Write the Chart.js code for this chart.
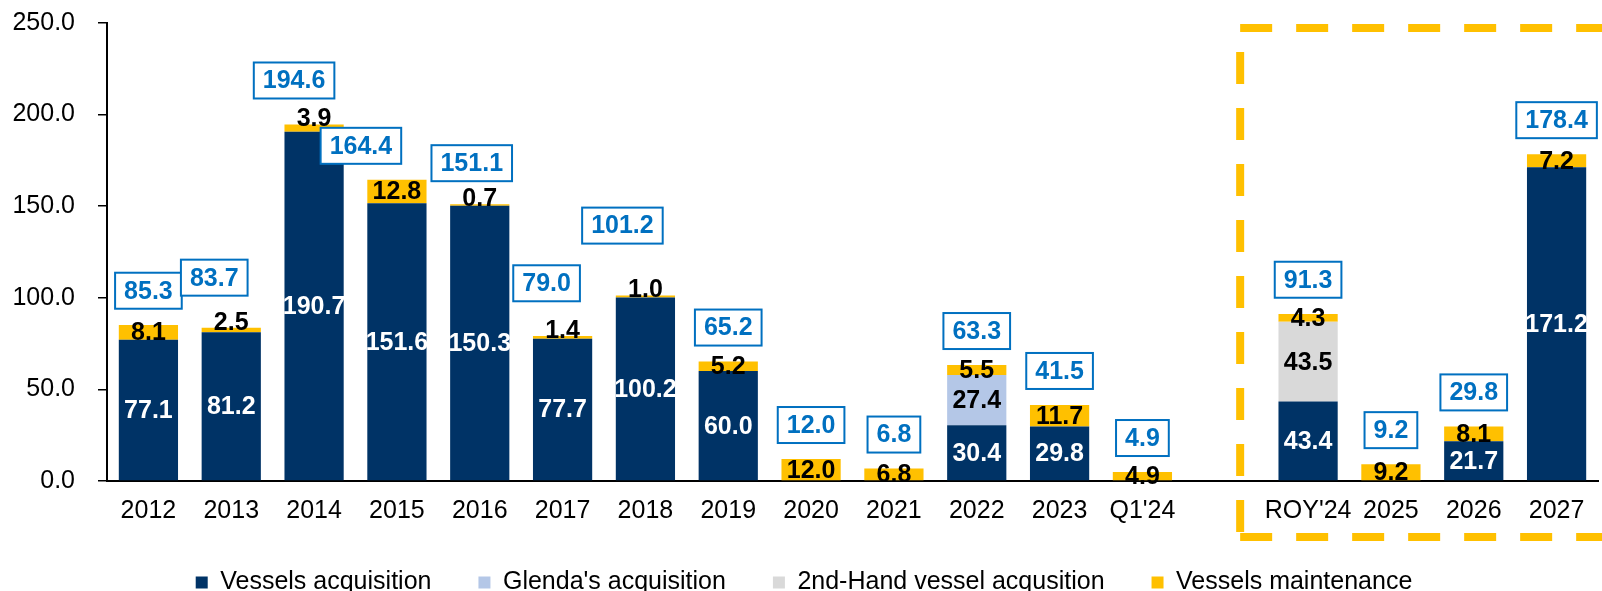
<!DOCTYPE html>
<html>
<head>
<meta charset="utf-8">
<script src="https://cdn.jsdelivr.net/npm/chart.js@4.4.1/dist/chart.umd.min.js"></script>
<style>
  html, body { margin: 0; padding: 0; background: #fff; overflow: hidden; }
  canvas { display: block; }
</style>
</head>
<body>
<canvas id="capex-chart" width="1602" height="605"></canvas>
<script>
const categories = ["2012", "2013", "2014", "2015", "2016", "2017", "2018", "2019", "2020", "2021", "2022", "2023", "Q1'24", "", "ROY'24", "2025", "2026", "2027"];
const vesselsAcquisition = [77.1, 81.2, 190.7, 151.6, 150.3, 77.7, 100.2, 60.0, 0, 0, 30.4, 29.8, 0, null, 43.4, 0, 21.7, 171.2];
const glendasAcquisition = [0, 0, 0, 0, 0, 0, 0, 0, 0, 0, 27.4, 0, 0, null, 0, 0, 0, 0];
const secondHandAcquisition = [0, 0, 0, 0, 0, 0, 0, 0, 0, 0, 0, 0, 0, null, 43.5, 0, 0, 0];
const vesselsMaintenance = [8.1, 2.5, 3.9, 12.8, 0.7, 1.4, 1.0, 5.2, 12.0, 6.8, 5.5, 11.7, 4.9, null, 4.3, 9.2, 8.1, 7.2];
const totals = [85.3, 83.7, 194.6, 164.4, 151.1, 79.0, 101.2, 65.2, 12.0, 6.8, 63.3, 41.5, 4.9, null, 91.3, 9.2, 29.8, 178.4];

// hand placed total boxes in the original (pixels)
const totalShiftX = [0, -17, -20, -36, -8, -16, -23, 0, 0, 0, 0, 0, 0, 0, 0, 0, 0, 0];
const totalShiftY = [0, 16, 10, 0, 7, 19, 36, 0, 0, 0, 0, 0, 0, 0, 0, 0, 0, 0];

const FONT = "'Liberation Sans', Arial, sans-serif";
Chart.defaults.font.family = FONT;
Chart.defaults.font.size = 25;
Chart.defaults.color = "#000";

const segmentLabels = {
  id: "segmentLabels",
  afterDatasetsDraw(chart) {
    const ctx = chart.ctx;
    ctx.save();
    ctx.font = "bold 25px " + FONT;
    ctx.textAlign = "center";
    ctx.textBaseline = "middle";
    chart.data.datasets.forEach((ds, di) => {
      const meta = chart.getDatasetMeta(di);
      meta.data.forEach((bar, i) => {
        const v = ds.data[i];
        if (!v) return;
        const top = Math.min(bar.y, bar.base);
        let y = (bar.y + bar.base) / 2;
        if (v < 4) y = top - 6;
        ctx.fillStyle = ds.labelColor;
        ctx.fillText(v.toFixed(1), bar.x, y + 1);
      });
    });
    ctx.restore();
  },
};

const totalBoxes = {
  id: "totalBoxes",
  afterDatasetsDraw(chart) {
    const { ctx, scales: { x, y } } = chart;
    ctx.save();
    ctx.font = "bold 25px " + FONT;
    ctx.textAlign = "center";
    ctx.textBaseline = "middle";
    totals.forEach((t, i) => {
      if (t == null) return;
      const cx = x.getPixelForValue(i) + totalShiftX[i];
      const cy = y.getPixelForValue(t) - 34 - totalShiftY[i];
      const label = t.toFixed(1);
      const w = ctx.measureText(label).width + 18;
      const h = 36;
      ctx.fillStyle = "#fff";
      ctx.fillRect(cx - w / 2, cy - h / 2, w, h);
      ctx.lineWidth = 2;
      ctx.strokeStyle = "#0070C0";
      ctx.strokeRect(cx - w / 2, cy - h / 2, w, h);
      ctx.fillStyle = "#0070C0";
      ctx.fillText(label, cx, cy + 1);
    });
    ctx.restore();
  },
};

// dashed frame round the forecast years
const forecastFrame = {
  id: "forecastFrame",
  afterDraw(chart) {
    const { ctx, scales: { x, y } } = chart;
    const left = x.getPixelForValue(13.18);
    const top = y.getPixelForValue(247.3);
    const bottom = y.getPixelForValue(-30.5);
    const right = chart.width + 20;
    ctx.save();
    ctx.strokeStyle = "#FFC000";
    ctx.lineWidth = 8;
    ctx.setLineDash([32, 24]);
    ctx.beginPath();
    ctx.moveTo(left, top);
    ctx.lineTo(right, top);
    ctx.moveTo(left, bottom);
    ctx.lineTo(right, bottom);
    ctx.stroke();
    ctx.lineDashOffset = 32;
    ctx.beginPath();
    ctx.moveTo(left, top);
    ctx.lineTo(left, bottom);
    ctx.stroke();
    ctx.restore();
  },
};

new Chart(document.getElementById("capex-chart"), {
  type: "bar",
  data: {
    labels: categories,
    datasets: [
      { label: "Vessels acquisition", data: vesselsAcquisition, backgroundColor: "#003366", labelColor: "#fff" },
      { label: "Glenda's acquisition", data: glendasAcquisition, backgroundColor: "#B4C7E7", labelColor: "#000" },
      { label: "2nd-Hand vessel acqusition", data: secondHandAcquisition, backgroundColor: "#D9D9D9", labelColor: "#000" },
      { label: "Vessels maintenance", data: vesselsMaintenance, backgroundColor: "#FFC000", labelColor: "#000" },
    ],
  },
  options: {
    responsive: false,
    animation: false,
    borderWidth: 0,
    categoryPercentage: 1,
    barPercentage: 0.715,
    layout: { padding: { left: 10, right: 4, top: 23, bottom: 0 } },
    scales: {
      x: {
        stacked: true,
        grid: { display: false },
        border: { display: true, color: "#000", width: 2 },
        ticks: { padding: 7, maxRotation: 0, autoSkip: false },
        afterFit(scale) {
          scale.height = 42;
        },
      },
      y: {
        stacked: true,
        min: 0,
        max: 250,
        ticks: {
          stepSize: 50,
          padding: 23,
          callback: (v) => v.toFixed(1),
        },
        grid: { drawOnChartArea: false, drawTicks: true, tickLength: 9, color: "#000", lineWidth: 1.5 },
        border: { display: true, color: "#000", width: 2 },
        afterFit(scale) {
          scale.width = 97;
          scale.paddingTop = 0;
          scale.paddingBottom = 0;
        },
      },
    },
    plugins: {
      tooltip: { enabled: false },
      legend: {
        position: "bottom",
        labels: {
          boxWidth: 12,
          boxHeight: 12,
          padding: 47,
          color: "#000",
        },
      },
    },
  },
  plugins: [segmentLabels, totalBoxes, forecastFrame],
});
</script>
</body>
</html>
